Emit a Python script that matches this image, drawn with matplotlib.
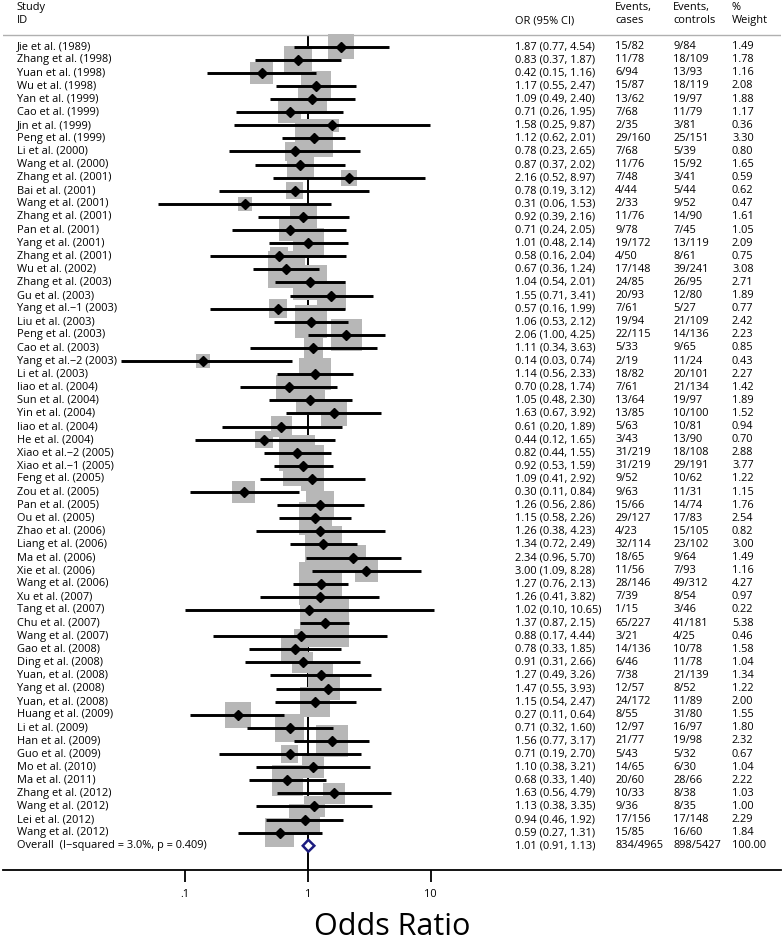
import matplotlib
matplotlib.use("Agg")
import matplotlib.pyplot as plt
from matplotlib.patches import Polygon
import numpy as np

plt.rcParams['font.family'] = ['Open Sans', 'DejaVu Sans']

# study data
studies = ["Jie et al. (1989)", "Zhang et al. (1998)", "Yuan et al. (1998)", "Wu et al. (1998)",
           "Yan et al. (1999)", "Cao et al. (1999)", "Jin et al. (1999)", "Peng et al. (1999)",
           "Li et al. (2000)", "Wang et al. (2000)", "Zhang et al. (2001)", "Bai et al. (2001)",
           "Wang et al. (2001)", "Zhang et al. (2001)", "Pan et al. (2001)", "Yang et al. (2001)",
           "Zhang et al. (2001)", "Wu et al. (2002)", "Zhang et al. (2003)", "Gu et al. (2003)",
           "Yang et al.\u22121 (2003)", "Liu et al. (2003)", "Peng et al. (2003)", "Cao et al. (2003)",
           "Yang et al.\u22122 (2003)", "Li et al. (2003)", "liao et al. (2004)", "Sun et al. (2004)",
           "Yin et al. (2004)", "liao et al. (2004)", "He et al. (2004)", "Xiao et al.\u22122 (2005)",
           "Xiao et al.\u22121 (2005)", "Feng et al. (2005)", "Zou et al. (2005)", "Pan et al. (2005)",
           "Ou et al. (2005)", "Zhao et al. (2006)", "Liang et al. (2006)", "Ma et al. (2006)",
           "Xie et al. (2006)", "Wang et al. (2006)", "Xu et al. (2007)", "Tang et al. (2007)",
           "Chu et al. (2007)", "Wang et al. (2007)", "Gao et al. (2008)", "Ding et al. (2008)",
           "Yuan, et al. (2008)", "Yang et al. (2008)", "Yuan, et al. (2008)", "Huang et al. (2009)",
           "Li et al. (2009)", "Han et al. (2009)", "Guo et al. (2009)", "Mo et al. (2010)",
           "Ma et al. (2011)", "Zhang et al. (2012)", "Wang et al. (2012)", "Lei et al. (2012)",
           "Wang et al. (2012)"]
odds = [1.87, 0.83, 0.42, 1.17, 1.09, 0.71, 1.58, 1.12, 0.78, 0.87, 2.16, 0.78, 0.31, 0.92, 0.71,
        1.01, 0.58, 0.67, 1.04, 1.55, 0.57, 1.06, 2.06, 1.11, 0.14, 1.14, 0.70, 1.05, 1.63, 0.61,
        0.44, 0.82, 0.92, 1.09, 0.30, 1.26, 1.15, 1.26, 1.34, 2.34, 3.00, 1.27, 1.26, 1.02, 1.37,
        0.88, 0.78, 0.91, 1.27, 1.47, 1.15, 0.27, 0.71, 1.56, 0.71, 1.10, 0.68, 1.63, 1.13, 0.94,
        0.59]
ci_low = [0.77, 0.37, 0.15, 0.55, 0.49, 0.26, 0.25, 0.62, 0.23, 0.37, 0.52, 0.19, 0.06, 0.39, 0.24,
          0.48, 0.16, 0.36, 0.54, 0.71, 0.16, 0.53, 1.00, 0.34, 0.03, 0.56, 0.28, 0.48, 0.67, 0.20,
          0.12, 0.44, 0.53, 0.41, 0.11, 0.56, 0.58, 0.38, 0.72, 0.96, 1.09, 0.76, 0.41, 0.10, 0.87,
          0.17, 0.33, 0.31, 0.49, 0.55, 0.54, 0.11, 0.32, 0.77, 0.19, 0.38, 0.33, 0.56, 0.38, 0.46,
          0.27]
ci_high = [4.54, 1.87, 1.16, 2.47, 2.40, 1.95, 9.87, 2.01, 2.65, 2.02, 8.97, 3.12, 1.53, 2.16, 2.05,
           2.14, 2.04, 1.24, 2.01, 3.41, 1.99, 2.12, 4.25, 3.63, 0.74, 2.33, 1.74, 2.30, 3.92, 1.89,
           1.65, 1.55, 1.59, 2.92, 0.84, 2.86, 2.26, 4.23, 2.49, 5.70, 8.28, 2.13, 3.82, 10.65, 2.15,
           4.44, 1.85, 2.66, 3.26, 3.93, 2.47, 0.64, 1.60, 3.17, 2.70, 3.21, 1.40, 4.79, 3.35, 1.92,
           1.31]
cases = ["15/82", "11/78", "6/94", "15/87", "13/62", "7/68", "2/35", "29/160", "7/68", "11/76",
         "7/48", "4/44", "2/33", "11/76", "9/78", "19/172", "4/50", "17/148", "24/85", "20/93",
         "7/61", "19/94", "22/115", "5/33", "2/19", "18/82", "7/61", "13/64", "13/85", "5/63",
         "3/43", "31/219", "31/219", "9/52", "9/63", "15/66", "29/127", "4/23", "32/114", "18/65",
         "11/56", "28/146", "7/39", "1/15", "65/227", "3/21", "14/136", "6/46", "7/38", "12/57",
         "24/172", "8/55", "12/97", "21/77", "5/43", "14/65", "20/60", "10/33", "9/36", "17/156",
         "15/85"]
controls = ["9/84", "18/109", "13/93", "18/119", "19/97", "11/79", "3/81", "25/151", "5/39", "15/92",
            "3/41", "5/44", "9/52", "14/90", "7/45", "13/119", "8/61", "39/241", "26/95", "12/80",
            "5/27", "21/109", "14/136", "9/65", "11/24", "20/101", "21/134", "19/97", "10/100", "10/81",
            "13/90", "18/108", "29/191", "10/62", "11/31", "14/74", "17/83", "15/105", "23/102", "9/64",
            "7/93", "49/312", "8/54", "3/46", "41/181", "4/25", "10/78", "11/78", "21/139", "8/52",
            "11/89", "31/80", "16/97", "19/98", "5/32", "6/30", "28/66", "8/38", "8/35", "17/148",
            "16/60"]
weights = [1.49, 1.78, 1.16, 2.08, 1.88, 1.17, 0.36, 3.30, 0.80, 1.65, 0.59, 0.62, 0.47, 1.61, 1.05,
           2.09, 0.75, 3.08, 2.71, 1.89, 0.77, 2.42, 2.23, 0.85, 0.43, 2.27, 1.42, 1.89, 1.52, 0.94,
           0.70, 2.88, 3.77, 1.22, 1.15, 1.76, 2.54, 0.82, 3.00, 1.49, 1.16, 4.27, 0.97, 0.22, 5.38,
           0.46, 1.58, 1.04, 1.34, 1.22, 2.00, 1.55, 1.80, 2.32, 0.67, 1.04, 2.22, 1.03, 1.00, 2.29,
           1.84]
overall_label = "Overall  (I\u2212squared = 3.0%, p = 0.409)"
overall_or, overall_lo, overall_hi = 1.01, 0.91, 1.13
overall_cases, overall_controls, overall_weight = "834/4965", "898/5427", "100.00"

n = len(studies)
rows = np.arange(n)
fs = 7.9

fig = plt.figure(figsize=(7.84, 9.42), dpi=100)
ax = fig.add_axes([3 / 784, 1 - 870 / 942, 778 / 784, 870 / 942])
ax.set_xscale('log')
ax.set_xlim(10 ** -2.48, 10 ** 3.85)
ax.set_ylim(62.85, -3.56)

# reference line at OR = 1, behind the boxes
ax.plot([1, 1], [-0.74, 62.85], color='black', lw=1.4, zorder=1)
ax.axhline(-0.89, color='#b0b0b0', lw=1.0, zorder=1)

# weight boxes (area ~ weight)
side = 21.0 * 0.72 * np.sqrt(weights)
ax.scatter(odds, rows, s=side ** 2, marker='s', color='#b7b7b7', linewidths=0, zorder=2)
ax.hlines(rows, ci_low, ci_high, color='black', lw=2.1, zorder=3)
ax.plot(odds, rows, 'D', color='black', ms=5, zorder=4)

# overall diamond
dia = Polygon([(overall_lo, n), (overall_or, n - 0.45), (overall_hi, n), (overall_or, n + 0.45)],
              closed=True, facecolor='white', edgecolor='#1c1c80', lw=1.8, zorder=5)
ax.add_patch(dia)

tr = ax.get_yaxis_transform()
col_x = [(16.7 - 3) / 778, (515 - 3) / 778, (615 - 3) / 778, (673 - 3) / 778, (732 - 3) / 778]

ax.text(col_x[0], -3.0, "Study", transform=tr, fontsize=fs, va='center')
ax.text(col_x[0], -1.98, "ID", transform=tr, fontsize=fs, va='center')
ax.text(col_x[1], -1.98, "OR (95% CI)", transform=tr, fontsize=fs, va='center')
ax.text(col_x[2], -3.0, "Events,", transform=tr, fontsize=fs, va='center')
ax.text(col_x[2], -1.98, "cases", transform=tr, fontsize=fs, va='center')
ax.text(col_x[3], -3.0, "Events,", transform=tr, fontsize=fs, va='center')
ax.text(col_x[3], -1.98, "controls", transform=tr, fontsize=fs, va='center')
ax.text(col_x[4], -3.0, "%", transform=tr, fontsize=fs, va='center')
ax.text(col_x[4], -1.98, "Weight", transform=tr, fontsize=fs, va='center')

for i in range(n):
    ax.text(col_x[0], i, studies[i], transform=tr, fontsize=fs, va='center')
    ax.text(col_x[1], i, "%.2f (%.2f, %.2f)" % (odds[i], ci_low[i], ci_high[i]),
            transform=tr, fontsize=fs, va='center')
    ax.text(col_x[2], i, cases[i], transform=tr, fontsize=fs, va='center')
    ax.text(col_x[3], i, controls[i], transform=tr, fontsize=fs, va='center')
    ax.text(col_x[4], i, "%.2f" % weights[i], transform=tr, fontsize=fs, va='center')

ax.text(col_x[0], n, overall_label, transform=tr, fontsize=fs, va='center')
ax.text(col_x[1], n, "%.2f (%.2f, %.2f)" % (overall_or, overall_lo, overall_hi),
        transform=tr, fontsize=fs, va='center')
ax.text(col_x[2], n, overall_cases, transform=tr, fontsize=fs, va='center')
ax.text(col_x[3], n, overall_controls, transform=tr, fontsize=fs, va='center')
ax.text(col_x[4], n, overall_weight, transform=tr, fontsize=fs, va='center')

for s in ['top', 'left', 'right']:
    ax.spines[s].set_visible(False)
ax.spines['bottom'].set_linewidth(1.3)
ax.set_yticks([])
ax.set_xticks([0.1, 1, 10])
ax.set_xticklabels(['.1', '1', '10'])
ax.xaxis.set_minor_locator(matplotlib.ticker.NullLocator())
ax.tick_params(axis='x', length=8.5, width=1.3, labelsize=fs, pad=5)

fig.text(0.5, 1 - 927 / 942, "Odds Ratio", fontsize=22, ha='center', va='center')

fig.savefig("out.png", dpi=100)
